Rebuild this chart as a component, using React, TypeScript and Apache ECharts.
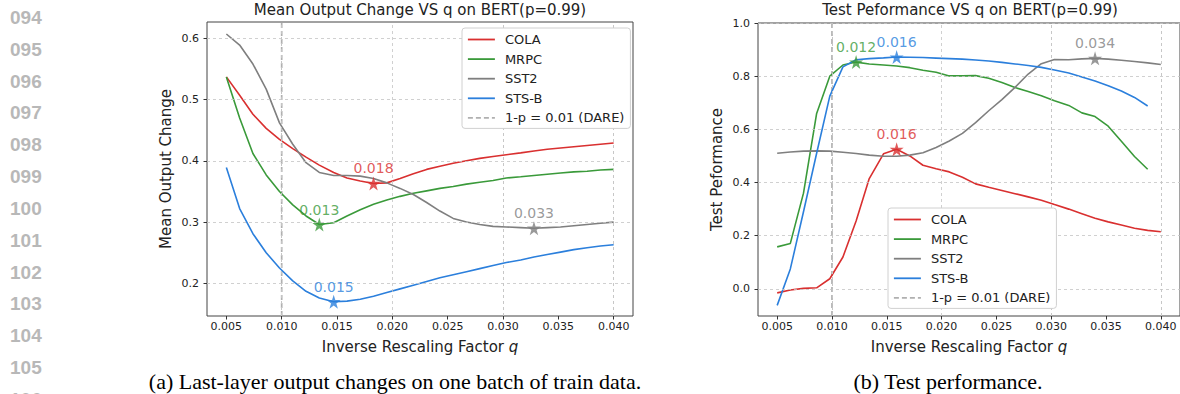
import React, { useEffect, useRef } from "react";
import * as echarts from "echarts";

// ---------- data ----------
const Q = [0.005, 0.0062, 0.0074, 0.0086, 0.0098, 0.011, 0.0122, 0.0134, 0.0147, 0.0159, 0.0171, 0.0183, 0.0195, 0.0207, 0.0219, 0.0231, 0.0243, 0.0255, 0.0267, 0.0279, 0.0291, 0.0303, 0.0316, 0.0328, 0.034, 0.0352, 0.0364, 0.0376, 0.0388, 0.04];

const SERIES_NAMES = ["COLA", "MRPC", "SST2", "STS-B"];
const DARE_NAME = "1-p = 0.01 (DARE)";
const DARE_Q = 0.01;

// (a) mean output change
const OUT_COLA = [0.537, 0.507, 0.476, 0.453, 0.435, 0.42, 0.406, 0.393, 0.381, 0.372, 0.367, 0.363, 0.364, 0.371, 0.379, 0.386, 0.391, 0.396, 0.4, 0.404, 0.407, 0.41, 0.413, 0.416, 0.419, 0.421, 0.423, 0.425, 0.427, 0.429];
const OUT_MRPC = [0.537, 0.47, 0.412, 0.377, 0.35, 0.328, 0.31, 0.296, 0.299, 0.31, 0.32, 0.329, 0.336, 0.342, 0.347, 0.351, 0.355, 0.358, 0.362, 0.365, 0.368, 0.372, 0.374, 0.376, 0.378, 0.38, 0.382, 0.383, 0.385, 0.386];
const OUT_SST2 = [0.607, 0.589, 0.558, 0.517, 0.462, 0.427, 0.397, 0.381, 0.376, 0.376, 0.375, 0.371, 0.364, 0.355, 0.345, 0.332, 0.318, 0.306, 0.3, 0.296, 0.293, 0.292, 0.291, 0.29, 0.291, 0.292, 0.294, 0.296, 0.298, 0.3];
const OUT_STSB = [0.389, 0.322, 0.281, 0.25, 0.225, 0.204, 0.187, 0.176, 0.17, 0.171, 0.174, 0.179, 0.185, 0.191, 0.197, 0.203, 0.209, 0.214, 0.219, 0.224, 0.229, 0.234, 0.238, 0.243, 0.247, 0.251, 0.255, 0.258, 0.261, 0.263];

// (b) test performance
const TP_COLA = [-0.015, -0.004, 0.002, 0.004, 0.038, 0.12, 0.255, 0.415, 0.508, 0.525, 0.5, 0.465, 0.452, 0.44, 0.42, 0.395, 0.382, 0.37, 0.358, 0.346, 0.333, 0.317, 0.3, 0.283, 0.266, 0.252, 0.24, 0.228, 0.22, 0.215];
const TP_MRPC = [0.158, 0.171, 0.36, 0.66, 0.8, 0.842, 0.853, 0.846, 0.842, 0.838, 0.832, 0.822, 0.815, 0.801, 0.801, 0.802, 0.792, 0.776, 0.757, 0.742, 0.726, 0.708, 0.69, 0.662, 0.648, 0.612, 0.555, 0.498, 0.45];
const TP_SST2 = [0.51, 0.515, 0.518, 0.519, 0.518, 0.514, 0.509, 0.503, 0.499, 0.499, 0.503, 0.512, 0.532, 0.556, 0.585, 0.625, 0.67, 0.712, 0.758, 0.808, 0.847, 0.863, 0.862, 0.865, 0.867, 0.864, 0.86, 0.855, 0.85, 0.844];
const TP_STSB = [-0.062, 0.075, 0.29, 0.51, 0.725, 0.835, 0.862, 0.866, 0.869, 0.872, 0.871, 0.87, 0.868, 0.866, 0.864, 0.861, 0.857, 0.852, 0.846, 0.84, 0.833, 0.823, 0.812, 0.797, 0.782, 0.764, 0.744, 0.72, 0.688];

const X_TICKS = [0.005, 0.01, 0.015, 0.02, 0.025, 0.03, 0.035, 0.04];
const OUT_Y_TICKS = [0.2, 0.3, 0.4, 0.5, 0.6];
const TP_Y_TICKS = [0.0, 0.2, 0.4, 0.6, 0.8, 1.0];

const X_MIN = 0.00325;
const X_MAX = 0.04175;
const OUT_Y_MIN = 0.1467;
const OUT_Y_MAX = 0.6266;
const TP_Y_MIN = -0.102;
const TP_Y_MAX = 1.0;

const TITLE_A = "Mean Output Change VS q on BERT(p=0.99)";
const TITLE_B = "Test Peformance VS q on BERT(p=0.99)";
const YNAME_A = "Mean Output Change";
const YNAME_B = "Test Peformance";
const XNAME = "Inverse Rescaling Factor {i|q}";
const CAPTION_A = "(a) Last-layer output changes on one batch of train data.";
const CAPTION_B = "(b) Test performance.";
const LINE_NUMBERS = ["094", "095", "096", "097", "098", "099", "100", "101", "102", "103", "104", "105", "106"];

// ---------- style ----------
const COLORS = ["#d93030", "#3a9a3a", "#7f7f7f", "#2b7fdc"];
const DARE_COLOR = "#b0b0b0";
const FONT = "DejaVu Sans";
const STAR = "path://M50,0 L61,35 L98,35 L68,57 L79,91 L50,70 L21,91 L32,57 L2,35 L39,35 Z";

function pairs(xs: number[], ys: number[]) {
  return ys.map((y, i) => [xs[i], y]);
}

function extremeIndex(ys: number[], wantMax: boolean) {
  let best = 0;
  ys.forEach((y, i) => {
    if (wantMax ? y > ys[best] : y < ys[best]) best = i;
  });
  return best;
}

function buildPanel(idx: number, sets: number[][], yMin: number, yMax: number, yTicks: number[], wantMax: boolean) {
  const series: any[] = [];
  series.push({
    type: "line",
    xAxisIndex: idx,
    yAxisIndex: idx,
    data: [],
    silent: true,
    z: 1,
    markLine: {
      silent: true,
      symbol: ["none", "none"],
      label: { show: false },
      lineStyle: { color: "#c4c4c4", type: [3, 3], width: 0.8 },
      data: [...X_TICKS.map((v) => ({ xAxis: v })), ...yTicks.map((v) => ({ yAxis: v }))],
    },
  });
  series.push({
    type: "line",
    name: DARE_NAME,
    xAxisIndex: idx,
    yAxisIndex: idx,
    data: [[DARE_Q, yMin], [DARE_Q, yMax]],
    symbol: "none",
    showSymbol: false,
    color: DARE_COLOR,
    lineStyle: { color: DARE_COLOR, type: [5, 3], width: 1.7 },
    z: 2,
  });
  sets.forEach((ys, k) => {
    series.push({
      type: "line",
      name: SERIES_NAMES[k],
      xAxisIndex: idx,
      yAxisIndex: idx,
      data: pairs(Q, ys),
      symbol: "none",
      showSymbol: false,
      color: COLORS[k],
      lineStyle: { color: COLORS[k], width: 1.6, type: "solid" },
      z: 3,
    });
  });
  series.push({
    type: "scatter",
    xAxisIndex: idx,
    yAxisIndex: idx,
    symbol: STAR,
    symbolSize: 14,
    z: 5,
    data: sets.map((ys, k) => {
      const i = extremeIndex(ys, wantMax);
      return {
        value: [Q[i], ys[i]],
        itemStyle: { color: COLORS[k] },
        label: {
          show: true,
          position: "top",
          distance: 1,
          formatter: Q[i].toFixed(3),
          color: COLORS[k],
          fontSize: 14,
          fontFamily: FONT,
        },
      };
    }),
  });
  return series;
}

function axisCommon(idx: number) {
  return {
    gridIndex: idx,
    type: "value",
    axisLine: { show: false, onZero: false },
    splitLine: { show: false },
  };
}

export default function App() {
  const ref = useRef<HTMLDivElement>(null);
  useEffect(() => {
    if (!ref.current) return;
    const chart = echarts.init(ref.current, null, { renderer: "svg" });
    const xAxisFor = (idx: number) => ({
      ...axisCommon(idx),
      min: X_MIN,
      max: X_MAX,
      axisTick: { show: true, customValues: X_TICKS, length: 3.5, lineStyle: { color: "#333" } },
      axisLabel: {
        customValues: X_TICKS,
        formatter: (v: number) => v.toFixed(3),
        fontSize: 11,
        color: "#222",
        fontFamily: FONT,
        margin: 5,
      },
      name: XNAME,
      nameLocation: "middle",
      nameGap: 23,
      nameTextStyle: {
        fontSize: 15,
        color: "#222",
        fontFamily: FONT,
        rich: { i: { fontStyle: "italic", fontSize: 15, color: "#222", fontFamily: FONT } },
      },
    });
    const yAxisFor = (idx: number, min: number, max: number, ticks: number[], name: string) => ({
      ...axisCommon(idx),
      min,
      max,
      axisTick: { show: true, customValues: ticks, length: 3.5, lineStyle: { color: "#333" } },
      axisLabel: {
        customValues: ticks,
        formatter: (v: number) => v.toFixed(1),
        fontSize: 11,
        color: "#222",
        fontFamily: FONT,
        margin: 8,
      },
      name,
      nameLocation: "middle",
      nameGap: 34,
      nameTextStyle: { fontSize: 15, color: "#222", fontFamily: FONT },
    });
    const legendData = [
      ...SERIES_NAMES.map((n, k) => ({
        name: n,
        itemStyle: { opacity: 0 },
        lineStyle: { color: COLORS[k], type: "solid", width: 1.8, opacity: 1 },
      })),
      {
        name: DARE_NAME,
        itemStyle: { opacity: 0 },
        lineStyle: { color: DARE_COLOR, type: [5, 3], width: 1.8, opacity: 1 },
      },
    ];
    const legendFor = (left: number, top: number) => ({
      left,
      top,
      z: 20,
      orient: "vertical",
      data: legendData,
      itemWidth: 27,
      itemHeight: 14,
      itemGap: 6.6,
      padding: [5, 6, 4, 5],
      borderColor: "#d0d0d0",
      borderWidth: 1,
      borderRadius: 3,
      backgroundColor: "#ffffff",
      selectedMode: false,
      itemStyle: { opacity: 0 },
      textStyle: { fontSize: 13, color: "#222", fontFamily: FONT, padding: [0, 0, 0, 5] },
    });
    const graphics: any[] = [];
    LINE_NUMBERS.forEach((t, i) => {
      graphics.push({
        type: "text",
        x: 10,
        y: 17.3 + 31.85 * i,
        style: {
          text: t,
          fontSize: 19,
          fontWeight: "bold",
          fontFamily: "Liberation Sans",
          fill: "#b8b8b8",
          align: "left",
          verticalAlign: "middle",
        },
      });
    });
    [[TITLE_A, 420], [TITLE_B, 970]].forEach(([t, x]) => {
      graphics.push({
        type: "text",
        x: x as number,
        y: 10,
        style: { text: t as string, fontSize: 15, fontFamily: FONT, fill: "#222", align: "center", verticalAlign: "middle" },
      });
    });
    [[CAPTION_A, 395], [CAPTION_B, 948]].forEach(([t, x]) => {
      graphics.push({
        type: "text",
        x: x as number,
        y: 381,
        style: { text: t as string, fontSize: 22, fontFamily: "Liberation Serif", fill: "#000", align: "center", verticalAlign: "middle" },
      });
    });

    const option: any = {
      animation: false,
      backgroundColor: "#ffffff",
      grid: [
        { left: 207, top: 22, width: 426, height: 294, show: true, borderColor: "#444", borderWidth: 1, backgroundColor: "transparent" },
        { left: 758, top: 23, width: 424, height: 293, show: true, borderColor: "#444", borderWidth: 1, backgroundColor: "transparent" },
      ],
      xAxis: [xAxisFor(0), xAxisFor(1)],
      yAxis: [
        yAxisFor(0, OUT_Y_MIN, OUT_Y_MAX, OUT_Y_TICKS, YNAME_A),
        yAxisFor(1, TP_Y_MIN, TP_Y_MAX, TP_Y_TICKS, YNAME_B),
      ],
      legend: [legendFor(462, 28), legendFor(888, 208)],
      series: [
        ...buildPanel(0, [OUT_COLA, OUT_MRPC, OUT_SST2, OUT_STSB], OUT_Y_MIN, OUT_Y_MAX, OUT_Y_TICKS, false),
        ...buildPanel(1, [TP_COLA, TP_MRPC, TP_SST2, TP_STSB], TP_Y_MIN, TP_Y_MAX, TP_Y_TICKS, true),
      ],
      graphic: graphics,
    };
    chart.setOption(option);
    return () => chart.dispose();
  }, []);
  return <div ref={ref} style={{ position: "fixed", left: 0, top: 0, width: 1180, height: 394 }} />;
}
